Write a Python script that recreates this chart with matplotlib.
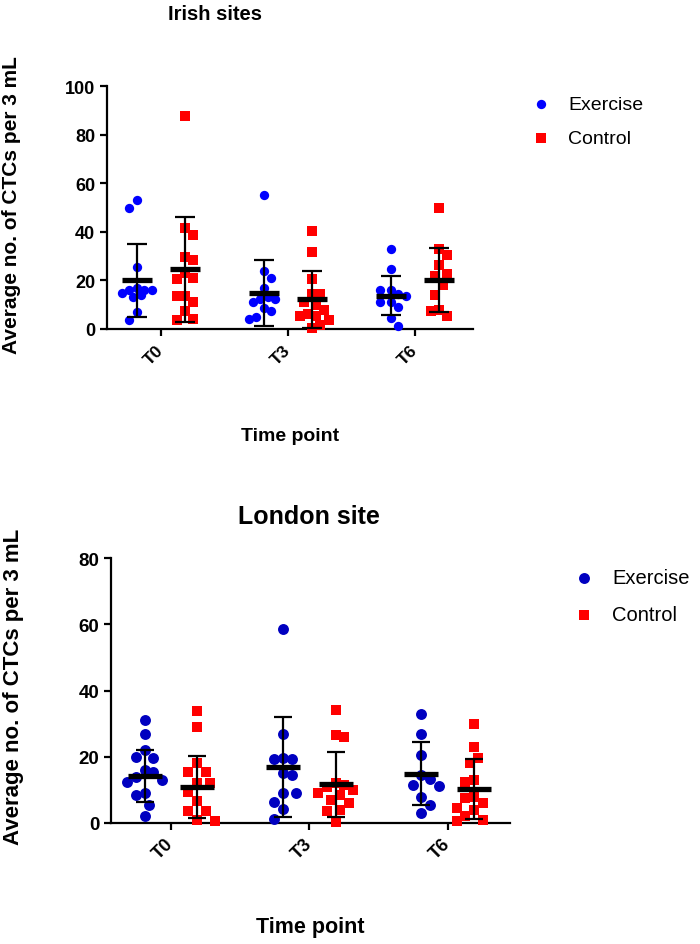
import numpy as np
import matplotlib
matplotlib.use("Agg")
import matplotlib.pyplot as plt

plt.rcParams['font.family'] = ['Liberation Sans', 'DejaVu Sans']

time_points = ["T0", "T3", "T6"]
groups = ["Exercise", "Control"]

# Irish sites
irish_ex = [
    [53, 50, 25.5, 17, 16, 16, 16, 15, 14, 13, 7, 3.5],
    [55, 24, 21, 17, 13, 12.5, 12.5, 11, 8.5, 7.5, 5, 4],
    [33, 24.5, 16, 16, 14.5, 13.7, 11, 11, 9, 4.4, 1.4],
]
irish_ctl = [
    [87.5, 41.5, 38.5, 29.5, 28.5, 23, 21, 20.5, 13.5, 13.5, 11, 7.5, 4, 3.8],
    [40.5, 31.5, 20.5, 14.5, 14.5, 11, 10, 8, 6, 5.5, 5.5, 3.5, 1.5, 0.5],
    [50, 33, 30.5, 26.5, 22.5, 22, 18, 14, 8, 7.5, 5.5],
]
irish_ex_mean = [20.0, 14.9, 13.7]
irish_ex_sd = [15.0, 13.5, 8.0]
irish_ctl_mean = [24.5, 12.2, 20.3]
irish_ctl_sd = [21.5, 11.8, 13.2]

# London site
london_ex = [
    [31, 27, 22, 20, 19.5, 16, 15.5, 14, 13, 12.5, 9, 8.5, 5.5, 2],
    [58.5, 27, 19.5, 19.3, 19.3, 15, 14.5, 9, 9, 6.3, 4.1, 1.3],
    [33, 27, 20.5, 14.5, 13.4, 11.5, 11.3, 7.8, 5.3, 3.1],
]
london_ctl = [
    [33.7, 29, 18, 15.5, 15.5, 12, 12, 9.5, 6.5, 3.5, 3.5, 1, 0.5],
    [34, 26.5, 26, 12, 11.5, 11, 10, 9, 8.5, 7, 6, 4, 3.5, 0.3],
    [30, 23, 19.5, 18, 13, 12.5, 8, 7.5, 6, 4.5, 4, 2, 1, 0.5],
]
london_ex_mean = [14.2, 16.9, 14.9]
london_ex_sd = [7.8, 15.0, 9.5]
london_ctl_mean = [10.9, 11.7, 10.3]
london_ctl_sd = [9.3, 9.8, 9.0]

DPI = 100
fig = plt.figure(figsize=(7.0, 9.45), dpi=DPI)


def swarm_x(ax, xc, ys, diam_px, fx=0.8, fy=1.2, step_frac=0.4, max_frac=1.6):
    """Compact beeswarm placement in display space (elliptical exclusion, capped width)."""
    ys = np.asarray(ys, float)
    pts = ax.transData.transform(np.column_stack([np.full(len(ys), xc), ys]))
    x0 = ax.transData.transform((0, 0))[0]
    x1 = ax.transData.transform((1, 0))[0]
    px_per_unit = x1 - x0
    order = np.argsort(ys)[::-1]
    placed = []
    out = np.zeros(len(ys))
    step = diam_px * step_frac
    kmax = int(round(max_frac / step_frac))
    ax_ = diam_px * fx
    ay_ = diam_px * fy
    for n, i in enumerate(order):
        px, py = pts[i]
        cands = [px]
        for k in range(1, kmax + 1):
            signs = (-1, 1) if n % 2 else (1, -1)
            cands += [px + s * k * step for s in signs]
        best, best_score = px, -1.0
        for cand in cands:
            score = min([((cand - qx) / ax_) ** 2 + ((py - qy) / ay_) ** 2 for qx, qy in placed],
                        default=10.0)
            if score >= 1:
                best = cand
                break
            if score > best_score:
                best, best_score = cand, score
        placed.append((best, py))
        out[i] = xc + (best - px) / px_per_unit
    return out


def panel(rect, ex, ctl, ex_mean, ex_sd, ctl_mean, ctl_sd, ymax, xlim,
          ex_color, s_circ, s_sq, cap, meanw, tickfs, legend_pos, legfs, legspace):
    ax = fig.add_axes(rect)
    ax.set_xlim(*xlim)
    ax.set_ylim(0, ymax)
    for sp in ("top", "right"):
        ax.spines[sp].set_visible(False)
    for sp in ("left", "bottom"):
        ax.spines[sp].set_linewidth(1.6)
    ax.set_yticks(np.arange(0, ymax + 1, 20))
    ax.set_xticks(range(len(time_points)))
    ax.set_xticklabels(time_points, rotation=45, ha='right', va='center',
                       rotation_mode='anchor', fontweight='bold', fontsize=tickfs)
    ax.tick_params(axis='y', labelsize=tickfs + 0.5, width=1.6, length=5)
    ax.tick_params(axis='x', width=1.6, length=5, pad=8)
    for lab in ax.get_yticklabels():
        lab.set_fontweight('bold')

    off = 0.19
    d_circ = np.sqrt(s_circ) * DPI / 72
    d_sq = np.sqrt(s_sq) * DPI / 72
    for i in range(len(time_points)):
        xe = swarm_x(ax, i - off, ex[i], d_circ)
        xc = swarm_x(ax, i + off, ctl[i], d_sq)
        ax.scatter(xe, ex[i], s=s_circ, marker='o', color=ex_color, linewidths=0,
                   clip_on=False, zorder=3, label=groups[0] if i == 0 else None)
        ax.scatter(xc, ctl[i], s=s_sq, marker='s', color='#ff0000', linewidths=0,
                   clip_on=False, zorder=3, label=groups[1] if i == 0 else None)
        for xpos, m, sd in ((i - off, ex_mean[i], ex_sd[i]), (i + off, ctl_mean[i], ctl_sd[i])):
            ax.errorbar([xpos], [m], yerr=[[sd], [sd]], fmt='none', ecolor='black',
                        elinewidth=1.6, capsize=cap, capthick=1.6, zorder=4, clip_on=False)
            ax.plot([xpos], [m], marker='_', ms=meanw, mew=3.8, color='black',
                    zorder=5, clip_on=False)
    ax.legend(loc='upper left', bbox_to_anchor=legend_pos, bbox_transform=fig.transFigure,
              frameon=False, fontsize=legfs, handlelength=1.0, handletextpad=0.9,
              labelspacing=legspace, borderpad=0, borderaxespad=0, scatterpoints=1)
    return ax


W, H = 700.0, 945.0
ax1 = panel([107 / W, 1 - 330 / H, 366 / W, 243 / H], irish_ex, irish_ctl,
            irish_ex_mean, irish_ex_sd, irish_ctl_mean, irish_ctl_sd, 100,
            (-0.425, 2.457), '#0000ff', 45, 55, 7.0, 22, 12.5, (531 / W, 1 - 96 / H), 14, 0.85)
ax2 = panel([111 / W, 1 - 824 / H, 399 / W, 265 / H], london_ex, london_ctl,
            london_ex_mean, london_ex_sd, london_ctl_mean, london_ctl_sd, 80,
            (-0.433, 2.45), '#0000c0', 62, 62, 6.2, 24, 13, (574 / W, 1 - 569 / H), 14.5, 0.9)

fig.text(215 / W, 1 - 14 / H, "Irish sites", ha='center', va='center', fontsize=14.5, fontweight='bold')
fig.text(309 / W, 1 - 517 / H, "London site", ha='center', va='center', fontsize=18, fontweight='bold')
fig.text(12 / W, 1 - 205 / H, "Average no. of CTCs per 3 mL", rotation=90, ha='center', va='center',
         fontsize=15, fontweight='bold')
fig.text(14 / W, 1 - 687 / H, "Average no. of CTCs per 3 mL", rotation=90, ha='center', va='center',
         fontsize=16, fontweight='bold')
fig.text(290 / W, 1 - 437 / H, "Time point", ha='center', va='center', fontsize=14, fontweight='bold')
fig.text(310 / W, 1 - 928 / H, "Time point", ha='center', va='center', fontsize=15.5, fontweight='bold')

fig.savefig("out.png", dpi=DPI)
